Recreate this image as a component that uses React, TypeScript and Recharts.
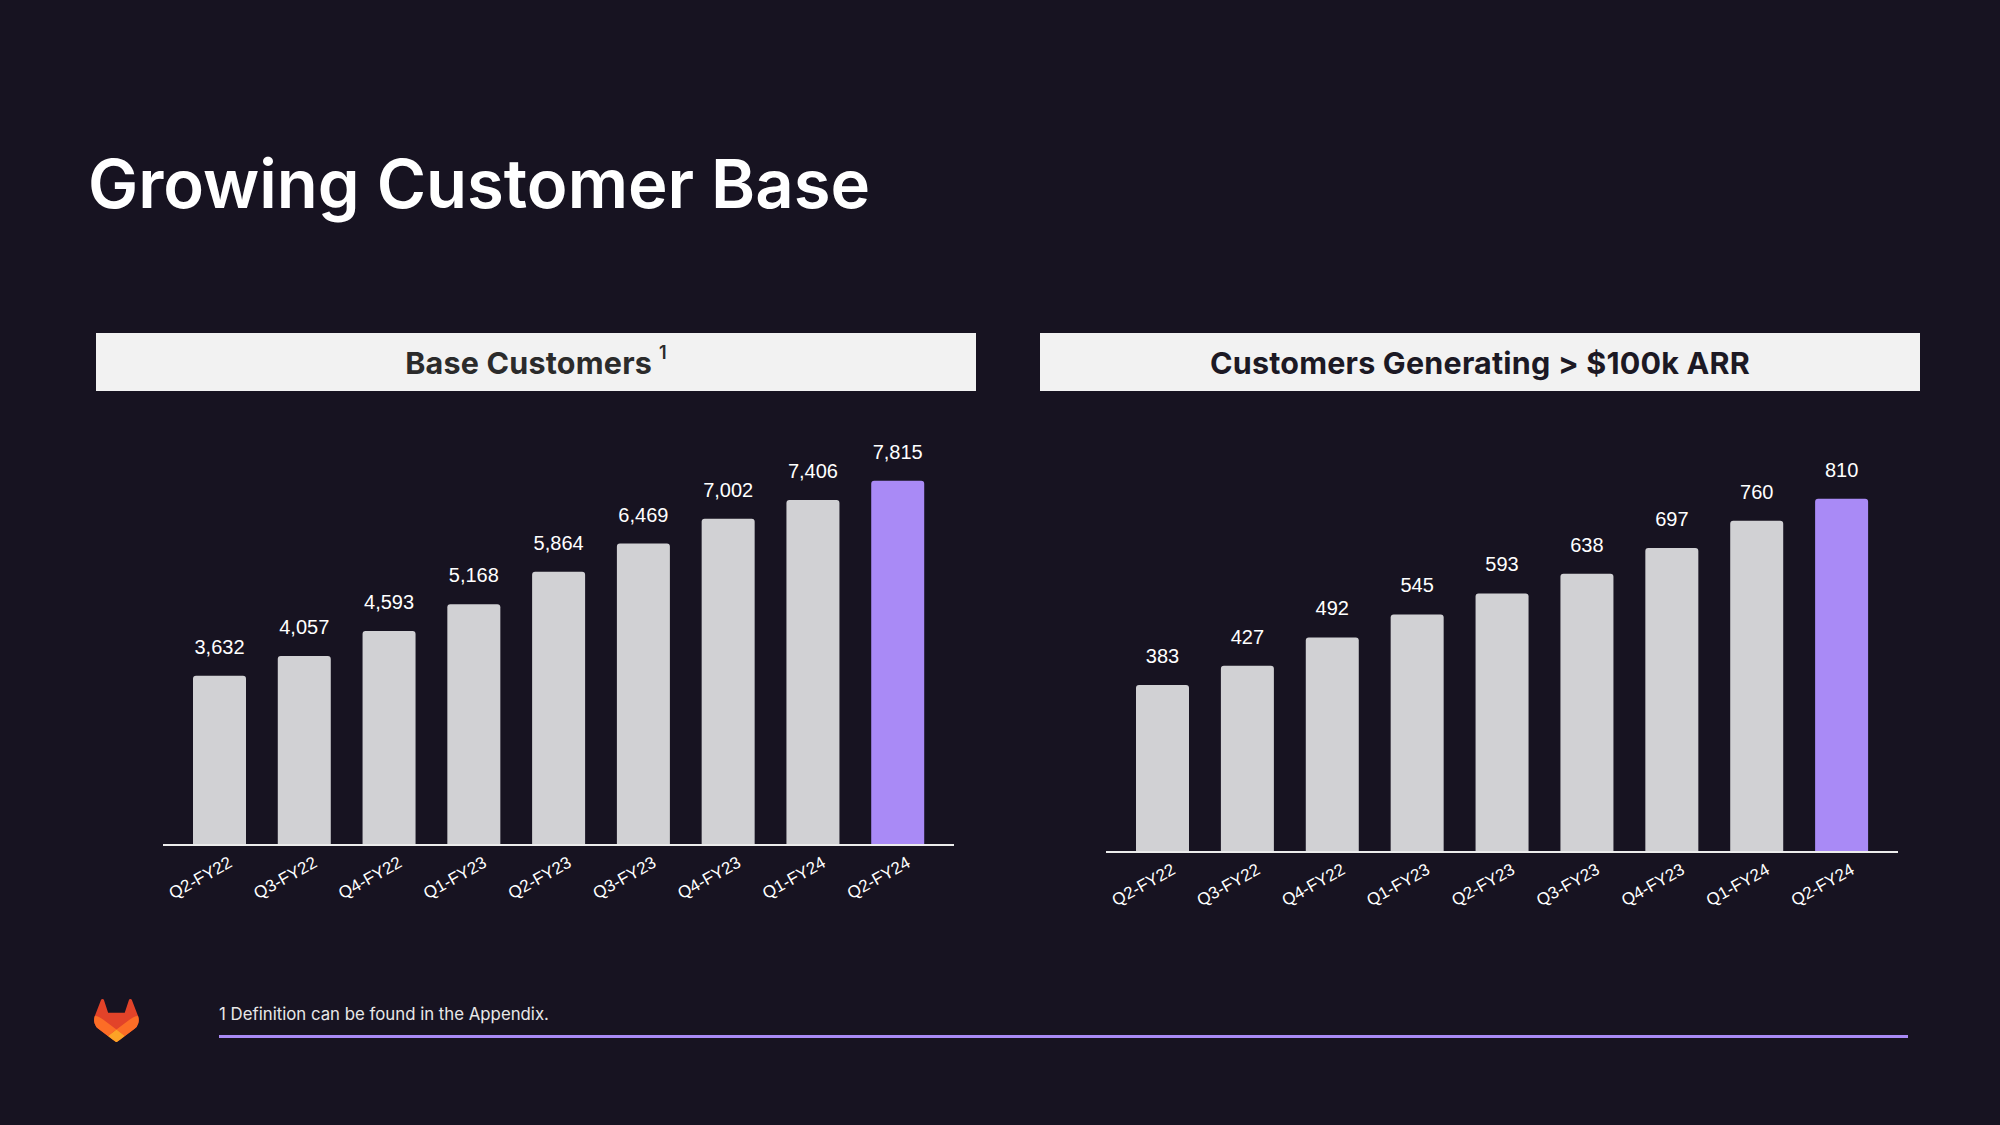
import React from 'react';
import { BarChart, Bar, XAxis, YAxis, Cell, LabelList } from 'recharts';

const quarters = ['Q2-FY22', 'Q3-FY22', 'Q4-FY22', 'Q1-FY23', 'Q2-FY23', 'Q3-FY23', 'Q4-FY23', 'Q1-FY24', 'Q2-FY24'];
const baseCustomers = [3632, 4057, 4593, 5168, 5864, 6469, 7002, 7406, 7815];
const customers100k = [383, 427, 492, 545, 593, 638, 697, 760, 810];

const BG = '#171321';
const GRAY = '#d1d1d4';
const PURPLE = '#a98af6';
const LABEL_FONT = '"Liberation Sans", Arial, sans-serif';
const INTER = 'Inter, "Noto Sans", sans-serif';

const baseData = quarters.map((q, i) => ({ q, v: baseCustomers[i] }));
const arrData = quarters.map((q, i) => ({ q, v: customers100k[i] }));

const Tick = (props: any) => {
  const { x, y, payload } = props;
  const ax = x + 14;
  const ay = y + 21;
  return (
    <text
      x={ax}
      y={ay}
      transform={`rotate(-29 ${ax} ${ay})`}
      textAnchor="end"
      fill="#ffffff"
      fontSize={17}
      fontFamily={LABEL_FONT}
    >
      {payload.value}
    </text>
  );
};

const fmt = (v: any) => Number(v).toLocaleString('en-US');

function Chart({ data, max, width, height }: { data: any[]; max: number; width: number; height: number }) {
  return (
    <BarChart width={width} height={height} data={data} margin={{ top: 0, right: 0, bottom: 0, left: 0 }}>
      <XAxis
        dataKey="q"
        height={80}
        padding={{ left: 14, right: 14 }}
        tickLine={false}
        tickSize={0}
        tickMargin={0}
        axisLine={{ stroke: '#ececec', strokeWidth: 2 }}
        tick={<Tick />}
        interval={0}
      />
      <YAxis hide domain={[0, max]} />
      <Bar dataKey="v" barSize={53} radius={[3, 3, 0, 0]} isAnimationActive={false}>
        {data.map((d, i) => (
          <Cell key={d.q} fill={i === data.length - 1 ? PURPLE : GRAY} />
        ))}
        <LabelList
          dataKey="v"
          position="top"
          offset={22}
          formatter={fmt}
          fill="#ffffff"
          fontSize={20}
          fontFamily={LABEL_FONT}
        />
      </Bar>
    </BarChart>
  );
}

const headerStyle: React.CSSProperties = {
  position: 'absolute',
  top: 333,
  width: 880,
  height: 58,
  background: '#f2f2f2',
  display: 'flex',
  alignItems: 'center',
  justifyContent: 'center',
  fontFamily: INTER,
  fontWeight: 700,
  fontSize: 30.5,
  letterSpacing: 0.2,
};

export default function App() {
  return (
    <div
      style={{
        position: 'absolute',
        left: 0,
        top: 0,
        width: 2000,
        height: 1125,
        background: BG,
        overflow: 'hidden',
      }}
    >
      <div
        style={{
          position: 'absolute',
          left: 88,
          top: 150,
          fontFamily: INTER,
          fontWeight: 600,
          fontSize: 67,
          lineHeight: '67px',
          color: '#ffffff',
          whiteSpace: 'nowrap',
        }}
      >
        Growing Customer Base
      </div>

      <div style={{ ...headerStyle, left: 96, color: '#2b2b2b' }}>
        <span>Base Customers</span>
        <span style={{ fontSize: 18, fontWeight: 600, alignSelf: 'flex-start', marginTop: 9, marginLeft: 7 }}>1</span>
      </div>
      <div style={{ ...headerStyle, left: 1040, color: '#1c1924' }}>
        <span>Customers Generating &gt; $100k ARR</span>
      </div>

      <div style={{ position: 'absolute', left: 163, top: 379 }}>
        <Chart data={baseData} max={10000} width={791} height={546} />
      </div>
      <div style={{ position: 'absolute', left: 1106, top: 416 }}>
        <Chart data={arrData} max={1000} width={792} height={516} />
      </div>

      <svg
        style={{ position: 'absolute', left: 94, top: 999 }}
        width={45}
        height={43}
        viewBox="0 0 25 24"
      >
        <path
          d="m24.507 9.5-.034-.09L21.082.562a.896.896 0 0 0-1.694.091l-2.29 7.01H7.825L5.535.653a.898.898 0 0 0-1.694-.09L.451 9.411.416 9.5a6.297 6.297 0 0 0 2.09 7.278l.012.01.03.022 5.160 3.867 2.56 1.935 1.554 1.176a1.051 1.051 0 0 0 1.268 0l1.555-1.176 2.56-1.935 5.197-3.89.014-.01A6.297 6.297 0 0 0 24.507 9.5Z"
          fill="#E24329"
        />
        <path
          d="m24.507 9.5-.034-.09a11.44 11.44 0 0 0-4.56 2.051l-7.447 5.632 4.742 3.584 5.197-3.89.014-.01A6.297 6.297 0 0 0 24.507 9.5Z"
          fill="#FC6D26"
        />
        <path
          d="m7.707 20.677 2.56 1.935 1.555 1.176a1.051 1.051 0 0 0 1.268 0l1.555-1.176 2.56-1.935-4.743-3.584-4.755 3.584Z"
          fill="#FCA326"
        />
        <path
          d="M5.01 11.461a11.43 11.43 0 0 0-4.56-2.05L.416 9.5a6.297 6.297 0 0 0 2.09 7.278l.012.01.03.022 5.16 3.867 4.745-3.584-7.444-5.632Z"
          fill="#FC6D26"
        />
      </svg>

      <div
        style={{
          position: 'absolute',
          left: 219,
          top: 1003,
          fontFamily: INTER,
          fontSize: 16.8,
          lineHeight: '22px',
          color: '#e8e8e8',
          whiteSpace: 'nowrap',
        }}
      >
        1 Definition can be found in the Appendix.
      </div>
      <div
        style={{
          position: 'absolute',
          left: 219,
          top: 1035,
          width: 1689,
          height: 3,
          background: PURPLE,
        }}
      />
    </div>
  );
}
